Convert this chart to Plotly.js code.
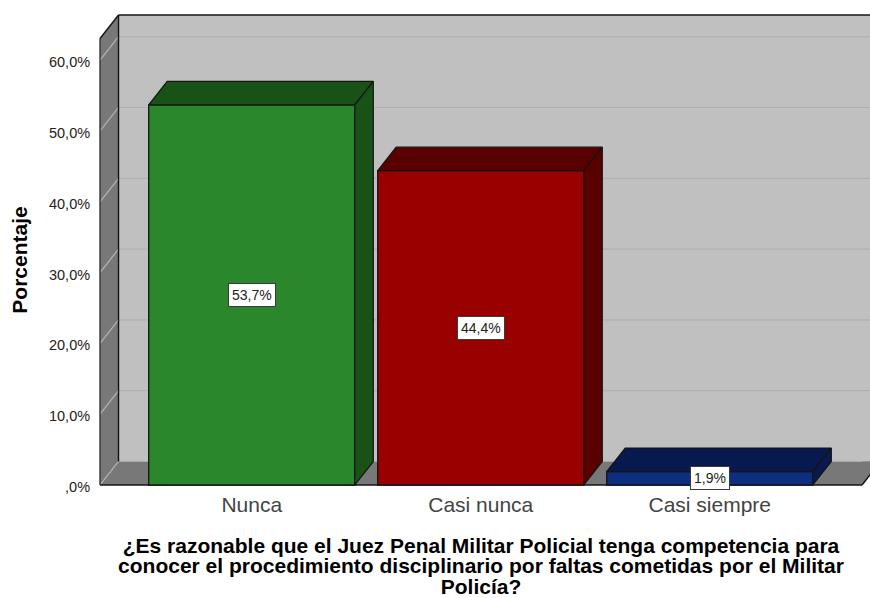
<!DOCTYPE html>
<html><head><meta charset="utf-8">
<script src="https://cdn.plot.ly/plotly-3.0.1.min.js"></script>
<style>html,body{margin:0;padding:0;background:#fff}</style></head>
<body><div id="chart" style="width:870px;height:598px"></div>
<script>
const categories = ["Nunca", "Casi nunca", "Casi siempre"];
const percentages = [53.7, 44.4, 1.9];
const valueLabels = ["53,7%", "44,4%", "1,9%"];
const yTickValues = [0, 10, 20, 30, 40, 50, 60];
const yTickLabels = [",0%", "10,0%", "20,0%", "30,0%", "40,0%", "50,0%", "60,0%"];
const frontColors = ["#2A872B", "#990000", "#0E2F80"];
const shadeColors = ["#195217", "#590000", "#08194F"];
const yTitle = "Porcentaje";
const xTitle = "¿Es razonable que el Juez Penal Militar Policial tenga competencia para<br>conocer el procedimiento disciplinario por faltas cometidas por el Militar<br>Policía?";
const xTitleBaselines = [555.5, 576, 596.5];

const barW = 0.9, dx = 0.0808, dy = 3.32;
const xL = -0.6626, xR = 2.665, wallTop = 63.07;
const idx = categories.map((_, i) => i);
const FONT = '"Liberation Sans", Arial, sans-serif';
const EDGE = "#141414";

const traces = [{
  type: "bar", x: idx, y: percentages, width: barW,
  marker: {color: frontColors, line: {color: EDGE, width: 1.3}},
  hoverinfo: "skip", showlegend: false
}];
idx.forEach(i => {
  const l = i - barW / 2, r = i + barW / 2, v = percentages[i];
  const face = (xs, ys) => traces.push({
    type: "scatter", mode: "lines", x: xs, y: ys, fill: "toself",
    fillcolor: shadeColors[i], line: {color: EDGE, width: 1.2},
    hoverinfo: "skip", showlegend: false
  });
  face([l, l + dx, r + dx, r, l], [v, v + dy, v + dy, v, v]);
  face([r, r + dx, r + dx, r, r], [0, dy, v + dy, v, 0]);
});

const poly = (pts, fill) => ({
  type: "path", xref: "x", yref: "y", layer: "below",
  path: "M" + pts.map(p => p[0] + "," + p[1]).join("L") + "Z",
  fillcolor: fill, line: {color: "rgba(0,0,0,0)", width: 0}
});
const seg = (x0, y0, x1, y1, c, w) => ({
  type: "line", xref: "x", yref: "y", layer: "below",
  x0, y0, x1, y1, line: {color: c, width: w}
});
const far = 3.2;
const shapes = [
  poly([[xL + dx, dy], [xL + dx, wallTop + dy], [far, wallTop + dy], [far, dy]], "#C0C0C0"),
  poly([[xL, 0], [xL + dx, dy], [far, dy], [far, 0], [xR, 0]], "#787878"),
  poly([[xR, 0], [xR + dx, dy], [far, dy], [far, -3], [xR, -3]], "#FFFFFF"),
  poly([[xR, 0], [xR + dx, dy], [xR, dy]], "#787878"),
  poly([[xL, 0], [xL, wallTop], [xL + dx, wallTop + dy], [xL + dx, dy]], "#787878")
];
yTickValues.filter(v => v > 0).forEach(v => {
  shapes.push(seg(xL, v, xL + dx, v + dy, "#B4B4B4", 1.2));
  shapes.push(seg(xL + dx, v + dy, far, v + dy, "#B0B0B0", 1.2));
});
shapes.push(seg(xL, 0, xL + dx, dy, "#B4B4B4", 1.2));
shapes.push(seg(xL + dx, dy, xL + dx, wallTop + dy, EDGE, 1.4));
shapes.push(seg(xL + dx, wallTop + dy, far, wallTop + dy, EDGE, 1.4));
shapes.push(seg(xL, 0, xL, wallTop, "#333333", 1.4));
shapes.push(seg(xL, wallTop, xL + dx, wallTop + dy, EDGE, 1.4));
shapes.push(seg(xL, 0, xR, 0, EDGE, 1.4));
shapes.push(seg(xR, 0, xR + dx, dy, EDGE, 1.4));

const annotations = idx.map(i => ({
  x: i, y: percentages[i] / 2, xref: "x", yref: "y", text: valueLabels[i],
  showarrow: false, bgcolor: "#FFFFFF", bordercolor: "#3A3A3A", borderwidth: 1, borderpad: 3,
  font: {family: FONT, size: 14, color: "#222222"}
}));

const layout = {
  width: 870, height: 598,
  margin: {l: 92, r: 0, t: 10, b: 88, pad: 0},
  paper_bgcolor: "#FFFFFF", plot_bgcolor: "#FFFFFF",
  showlegend: false, bargap: 0, shapes, annotations,
  xaxis: {
    range: [-0.6976, 2.6998], anchor: "free", position: 0.05,
    tickmode: "array", tickvals: idx, ticktext: categories,
    showgrid: false, zeroline: false, showline: false,
    ticks: "outside", ticklen: 1, tickcolor: "rgba(0,0,0,0)",
    tickfont: {family: FONT, size: 21, color: "#444444"},
    title: {text: xTitle, standoff: 12, font: {family: FONT, size: 21, color: "#000000", weight: "bold"}}
  },
  yaxis: {
    range: [-3.531, 67.09], tickmode: "array", tickvals: yTickValues, ticktext: yTickLabels,
    showgrid: false, zeroline: false, showline: false,
    ticks: "outside", ticklen: 4, tickcolor: "rgba(0,0,0,0)", ticklabelshift: 2, ticklabelstandoff: -6,
    tickfont: {family: FONT, size: 14.5, color: "#222222"},
    title: {text: yTitle, standoff: 15, font: {family: FONT, size: 21, color: "#000000", weight: "bold"}}
  }
};
Plotly.newPlot("chart", traces, layout, {displayModeBar: false, staticPlot: true}).then(() => {
  document.querySelectorAll(".xtitle tspan.line").forEach((t, i) => {
    t.removeAttribute("dy");
    t.setAttribute("y", xTitleBaselines[i]);
  });
});
</script></body></html>
